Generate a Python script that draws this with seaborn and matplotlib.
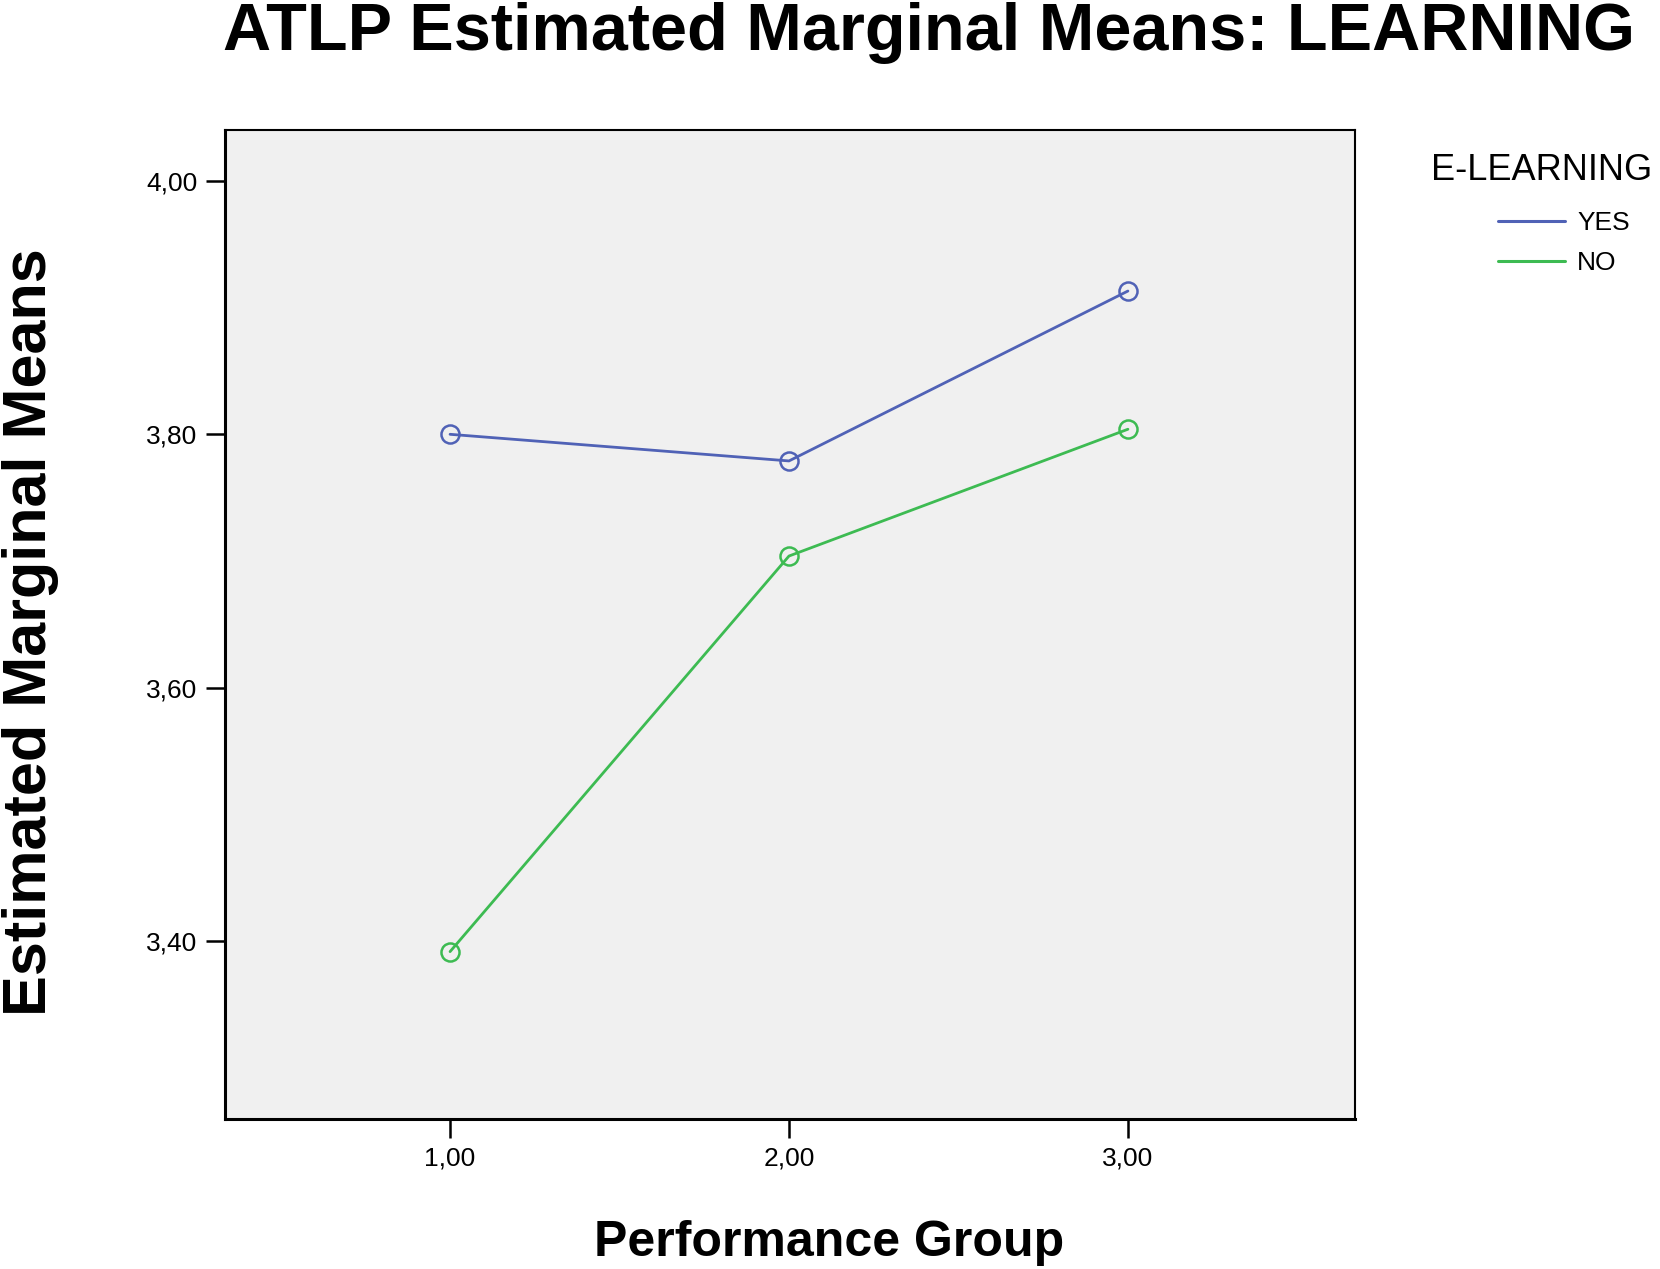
import matplotlib
matplotlib.use("Agg")
import matplotlib.pyplot as plt
import seaborn as sns
import pandas as pd
from matplotlib.lines import Line2D
from matplotlib.ticker import FuncFormatter

groups = [1.0, 2.0, 3.0]
yes_means = [3.800, 3.779, 3.913]
no_means = [3.392, 3.704, 3.804]
series_names = ["YES", "NO"]
colors = ["#5062b6", "#3dbb52"]
yticks = [3.40, 3.60, 3.80, 4.00]

df = pd.DataFrame({
    "Performance Group": groups * 2,
    "Mean": yes_means + no_means,
    "E-LEARNING": [series_names[0]] * 3 + [series_names[1]] * 3,
})

sns.set_theme(style="ticks")
plt.rcParams["font.family"] = ["Liberation Sans", "DejaVu Sans"]
plt.rcParams["text.color"] = "black"
plt.rcParams["axes.labelcolor"] = "black"
plt.rcParams["xtick.color"] = "black"
plt.rcParams["ytick.color"] = "black"

W, H = 1660, 1269
fig = plt.figure(figsize=(W / 100, H / 100), dpi=100)
ax = fig.add_axes([225 / W, 1 - 1119 / H, (1355 - 225) / W, (1119 - 130) / H])
ax.set_facecolor("#f0f0f0")

sns.lineplot(data=df, x="Performance Group", y="Mean", hue="E-LEARNING",
             palette=dict(zip(series_names, colors)), marker="o", markersize=13,
             linewidth=2.0, legend=False, ax=ax)
for ln in ax.lines:
    ln.set_markerfacecolor("none")
    ln.set_markeredgecolor(ln.get_color())
    ln.set_markeredgewidth(1.8)

ax.set_xlim(0.336, 3.67)
ax.set_ylim(3.26, 4.04)
ax.set_xticks(groups)
ax.set_yticks(yticks)
fmt = FuncFormatter(lambda v, p: f"{v:.2f}".replace(".", ","))
ax.xaxis.set_major_formatter(fmt)
ax.yaxis.set_major_formatter(fmt)
ax.tick_params(axis="both", length=14, width=1.8, labelsize=19, pad=6, color="black",
               labelcolor="black")
for s in ax.spines.values():
    s.set_linewidth(1.5)
    s.set_color("black")
ax.spines["left"].set_linewidth(2.2)
ax.spines["bottom"].set_linewidth(2.2)

ax.set_xlabel("")
ax.set_ylabel("")
fig.text(829 / W, 1 - 1243 / H, "Performance Group", ha="center", va="center",
         fontsize=36, fontweight="bold", color="black")
fig.text(31 / W, 1 - 632 / H, "Estimated Marginal Means", ha="center", va="center",
         rotation=90, fontsize=44, fontweight="bold", color="black")
fig.text(929 / W, 1 - 33 / H, "ATLP Estimated Marginal Means: LEARNING",
         ha="center", va="center", fontsize=48, fontweight="bold", color="black")

fig.text(1431 / W, 1 - 170 / H, "E-LEARNING", ha="left", va="center",
         fontsize=26, color="black")
handles = [Line2D([0], [0], color=c, lw=2.2) for c in colors]
leg = fig.legend(handles, series_names, loc="upper left",
                 bbox_to_anchor=(1498 / W, 1 - 211 / H), frameon=False,
                 fontsize=19, borderpad=0, borderaxespad=0, handlelength=2.55,
                 handletextpad=0.45, labelspacing=0.6)

fig.savefig("out.png", dpi=100)
